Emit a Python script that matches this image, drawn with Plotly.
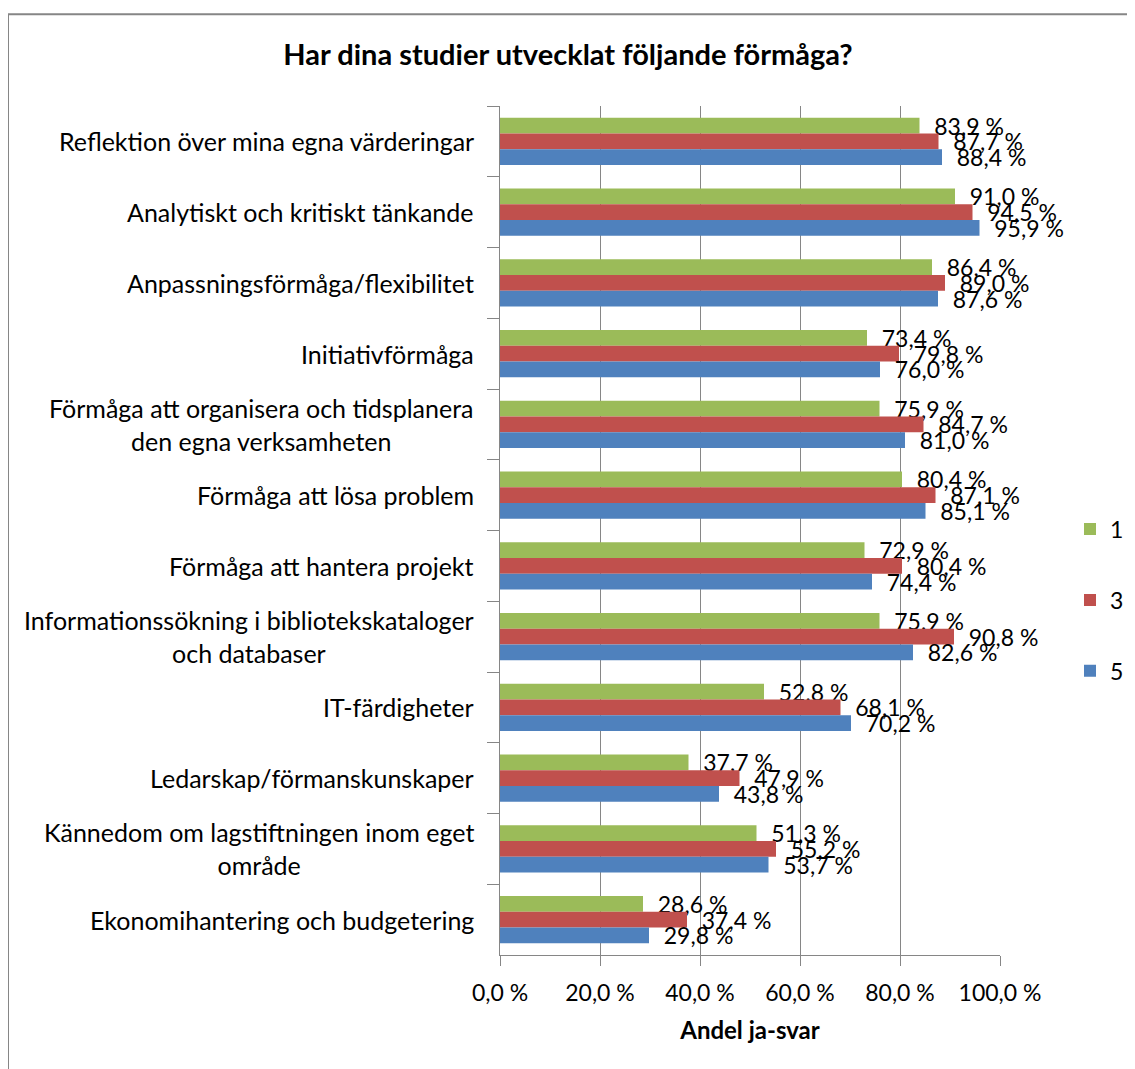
import plotly.graph_objects as go

# categories as they appear top to bottom
categories = [
    "Reflektion över mina egna värderingar",
    "Analytiskt och kritiskt tänkande",
    "Anpassningsförmåga/flexibilitet",
    "Initiativförmåga",
    "Förmåga att organisera och tidsplanera<br>den egna verksamheten",
    "Förmåga att lösa problem",
    "Förmåga att hantera projekt",
    "Informationssökning i bibliotekskataloger<br>och databaser",
    "IT-färdigheter",
    "Ledarskap/förmanskunskaper",
    "Kännedom om lagstiftningen inom eget<br>område",
    "Ekonomihantering och budgetering",
]

series_names = ["1", "3", "5"]
values_1 = [83.9, 91.0, 86.4, 73.4, 75.9, 80.4, 72.9, 75.9, 52.8, 37.7, 51.3, 28.6]
values_3 = [87.7, 94.5, 89.0, 79.8, 84.7, 87.1, 80.4, 90.8, 68.1, 47.9, 55.2, 37.4]
values_5 = [88.4, 95.9, 87.6, 76.0, 81.0, 85.1, 74.4, 82.6, 70.2, 43.8, 53.7, 29.8]
colors = ["#9BBB59", "#C0504D", "#4F81BD"]

x_ticks = [0, 20, 40, 60, 80, 100]

FONT = "Lato"
GRAY = "#868686"


def fmt(v):
    return "\u00a0\u00a0" + f"{v:.1f} %".replace(".", ",")


fig = go.Figure()
for name, vals, col in zip(series_names, [values_1, values_3, values_5], colors):
    fig.add_trace(go.Bar(
        y=categories, x=vals, name=name, orientation="h",
        marker=dict(color=col, line=dict(width=0)),
        text=[fmt(v) for v in vals], textposition="outside",
        constraintext="none", cliponaxis=False,
        outsidetextfont=dict(family=FONT, size=23, color="black"),
        legendgroup=name,
    ))

# category labels, centred multi-line like the original
for c in categories:
    fig.add_annotation(x=0, y=c, xref="x", yref="y", text=c, showarrow=False,
                       xanchor="right", align="center", xshift=-24,
                       font=dict(family=FONT, size=25, color="black"))

# chart frame (cut off at right and bottom in the original)
fig.add_shape(type="rect", xref="paper", yref="paper",
              x0=-0.984, x1=1.3, y0=-0.15, y1=1.108,
              line=dict(color=GRAY, width=2), layer="below")

fig.update_layout(
    width=1127, height=1061,
    margin=dict(l=492, r=135, t=98, b=114, autoexpand=False),
    paper_bgcolor="white", plot_bgcolor="white",
    barmode="group", bargap=0.33, bargroupgap=0,
    font=dict(family=FONT, size=23, color="black"),
    title=dict(text="<b>Har dina studier utvecklat följande förmåga?</b>",
               x=560 / 1127, xref="container", xanchor="center",
               y=1 - 47 / 1061, yanchor="middle",
               font=dict(family=FONT, size=29, color="black")),
    legend=dict(x=1.14, xanchor="left", y=0.418, yanchor="middle",
                font=dict(family=FONT, size=23), tracegroupgap=38,
                bgcolor="rgba(0,0,0,0)"),
    showlegend=True,
)

fig.update_xaxes(range=[0, 100], tickvals=x_ticks,
                 ticktext=[f"{t:.1f} %".replace(".", ",") for t in x_ticks],
                 showgrid=True, gridcolor=GRAY, gridwidth=1,
                 showline=True, linecolor=GRAY, linewidth=1,
                 ticks="outside", ticklen=10, tickcolor=GRAY,
                 ticklabelstandoff=7, zeroline=False,
                 tickfont=dict(family=FONT, size=23),
                 title=dict(text="<b>Andel ja-svar</b>", standoff=17,
                            font=dict(family=FONT, size=24)))
fig.update_yaxes(autorange="reversed", showticklabels=False,
                 showline=True, linecolor=GRAY, linewidth=1,
                 ticks="outside", tickson="boundaries", ticklen=12, tickcolor=GRAY,
                 showgrid=False)

fig.write_html("out.html")
